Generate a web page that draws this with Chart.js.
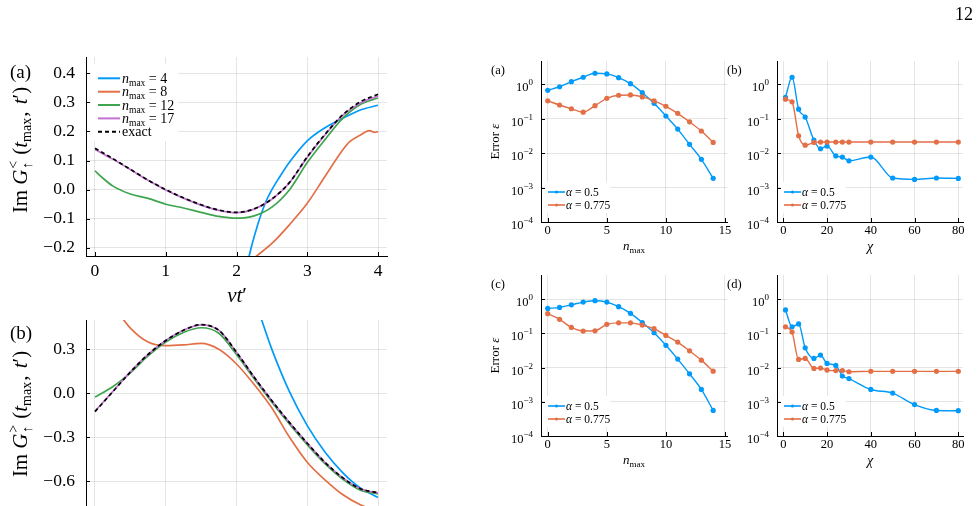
<!DOCTYPE html>
<html><head><meta charset="utf-8">
<script src="https://cdn.jsdelivr.net/npm/chart.js@4/dist/chart.umd.min.js"></script>
<style>
html,body{margin:0;padding:0;background:#fff;overflow:hidden;width:980px;height:506px;}
canvas{position:absolute;left:0;top:0;}
</style></head><body>
<canvas id="cla" width="980" height="506" style="width:980px;height:506px"></canvas>
<canvas id="clb" width="980" height="600" style="width:980px;height:600px"></canvas>
<canvas id="cra" width="980" height="506" style="width:980px;height:506px"></canvas>
<canvas id="crb" width="980" height="506" style="width:980px;height:506px"></canvas>
<canvas id="crc" width="980" height="506" style="width:980px;height:506px"></canvas>
<canvas id="crd" width="980" height="506" style="width:980px;height:506px"></canvas>
<script>
// ---------------- data ----------------
const tA = [0,0.25,0.5,0.75,1,1.25,1.5,1.75,2,2.25,2.5,2.75,3,3.25,3.5,3.75,4];
const exactA = [0.142,0.107,0.07,0.033,0.0,-0.028,-0.052,-0.07,-0.078,-0.066,-0.032,0.025,0.113,0.19,0.257,0.302,0.328];
const n17A = [0.138,0.105,0.069,0.032,-0.001,-0.029,-0.053,-0.071,-0.079,-0.067,-0.033,0.024,0.111,0.188,0.255,0.298,0.322];
const tA12 = [0,0.1,0.25,0.5,0.75,1,1.25,1.5,1.75,2,2.25,2.5,2.75,3,3.25,3.5,3.75,4];
const n12A = [0.065,0.042,0.013,-0.015,-0.03,-0.05,-0.063,-0.078,-0.092,-0.098,-0.09,-0.06,0.0,0.093,0.172,0.245,0.293,0.315];
const tA4 = [2.1,2.18,2.3,2.4,2.5,2.6,2.75,3,3.25,3.5,3.75,4];
const n4A = [-0.33,-0.227,-0.12,-0.05,0.0,0.04,0.095,0.168,0.213,0.245,0.274,0.29];
const tA8 = [2.2,2.29,2.5,2.75,3,3.25,3.5,3.6,3.75,3.88,3.95,4];
const n8A = [-0.245,-0.227,-0.185,-0.12,-0.047,0.045,0.136,0.165,0.188,0.203,0.197,0.199];

const tB = [0,0.25,0.5,0.75,1,1.25,1.5,1.75,2,2.25,2.5,2.75,3,3.25,3.5,3.75,4];
const exactB = [-0.125,0.01,0.145,0.265,0.36,0.43,0.468,0.43,0.28,0.11,-0.05,-0.2,-0.34,-0.47,-0.575,-0.65,-0.678];
const n17B = [-0.122,0.012,0.146,0.265,0.36,0.43,0.467,0.43,0.28,0.11,-0.05,-0.2,-0.34,-0.47,-0.575,-0.65,-0.68];
const n12B = [-0.025,0.045,0.14,0.255,0.35,0.415,0.447,0.41,0.265,0.1,-0.06,-0.21,-0.35,-0.48,-0.585,-0.66,-0.685];
const tB4 = [2.3,2.5,2.75,3,3.25,3.5,3.75,4];
const n4B = [0.58,0.3,0.01,-0.22,-0.4,-0.54,-0.645,-0.71];
const tB8 = [0.3,0.5,0.75,1,1.25,1.5,1.75,2,2.25,2.5,2.75,3,3.25,3.5,3.75,4];
const n8B = [0.57,0.445,0.35,0.325,0.33,0.34,0.3,0.2,0.06,-0.1,-0.3,-0.47,-0.59,-0.69,-0.76,-0.8];

const nmax = [0,1,2,3,4,5,6,7,8,9,10,11,12,13,14];
const errA05 = [0.67,0.85,1.19,1.6,2.09,2.0,1.56,1.04,0.57,0.28,0.12,0.05,0.018,0.0066,0.00186];
const errA0775 = [0.33,0.25,0.195,0.155,0.24,0.39,0.48,0.49,0.43,0.33,0.23,0.143,0.081,0.044,0.0205];
const errC05 = [0.54,0.58,0.69,0.83,0.91,0.83,0.61,0.39,0.21,0.105,0.045,0.0178,0.0066,0.0023,0.00056];
const errC0775 = [0.38,0.26,0.15,0.118,0.12,0.185,0.205,0.205,0.176,0.138,0.088,0.056,0.031,0.0166,0.0079];

const chi = [1,4,7,10,14,17,20,24,27,30,40,50,60,70,80];
const errB05 = [0.42,1.6,0.19,0.112,0.024,0.0134,0.016,0.0083,0.0077,0.006,0.0077,0.0019,0.00173,0.0019,0.00185];
const errB0775 = [0.37,0.31,0.032,0.017,0.0205,0.021,0.021,0.021,0.021,0.021,0.021,0.021,0.021,0.021,0.021];
const errD05 = [0.49,0.157,0.19,0.038,0.0186,0.0233,0.0133,0.0116,0.0057,0.0048,0.0023,0.0018,0.00083,0.00056,0.00055];
const errD0775 = [0.157,0.11,0.0174,0.0186,0.0095,0.0097,0.0085,0.0082,0.0082,0.0076,0.0078,0.0078,0.0078,0.0078,0.0078];

const xTicksLeft = [0,1,2,3,4];
const yTicksLeftA = [-0.2,-0.1,0.0,0.1,0.2,0.3,0.4];
const yTicksLeftB = [-0.6,-0.3,0.0,0.3];
const xTicksN = [0,5,10,15];
const xTicksChi = [0,20,40,60,80];
const yTicksLog = [1e-4,1e-3,1e-2,1e-1,1];
const legendLeft = ['4','8','12','17'];
const legendRight = ['0.5','0.775'];

// ---------------- style ----------------
const FONT = '"Liberation Serif", "Times New Roman", serif';
const BLUE = '#009AFA', ORANGE = '#E36F47', GREEN = '#3EA44E', PURPLE = '#C371D2';
const GRID = 'rgba(0,0,0,0.1)';

function pts(xs, ys){ return xs.map((x,i)=>({x:x, y:ys[i]})); }
function fontOf(p){ return (p.it?'italic ':'') + p.s + 'px ' + FONT; }
function richWidth(ctx, parts){
  let w = 0;
  for (const p of parts){
    ctx.font = fontOf(p);
    if (p.stack) w += Math.max(ctx.measureText(p.sup).width, ctx.measureText(p.sub).width) + (p.gap||0);
    else w += ctx.measureText(p.t).width + (p.gap||0);
  }
  return w;
}
function drawRich(ctx, parts, x, y, align){
  const w = richWidth(ctx, parts);
  let cx = align === 'center' ? x - w/2 : align === 'right' ? x - w : x;
  ctx.textAlign = 'left'; ctx.textBaseline = 'alphabetic'; ctx.fillStyle = '#000';
  for (const p of parts){
    ctx.font = fontOf(p);
    if (p.stack){
      ctx.fillText(p.sup, cx, y + p.up);
      ctx.fillText(p.sub, cx, y + p.dn);
      cx += Math.max(ctx.measureText(p.sup).width, ctx.measureText(p.sub).width) + (p.gap||0);
    } else {
      ctx.fillText(p.t, cx, y + (p.dy||0));
      cx += ctx.measureText(p.t).width + (p.gap||0);
    }
  }
}
function drawRotated(ctx, parts, cx, cy, off){
  ctx.save(); ctx.translate(cx, cy); ctx.rotate(-Math.PI/2);
  drawRich(ctx, parts, 0, off, 'center');
  ctx.restore();
}
function inwardTicks(chart){
  const {ctx, chartArea:a, scales:{x, y}} = chart;
  ctx.save(); ctx.strokeStyle = '#000'; ctx.lineWidth = 1; ctx.beginPath();
  x.ticks.forEach(t => { const px = Math.round(x.getPixelForValue(t.value)) + 0.5;
    if (px >= a.left && px <= a.right){ ctx.moveTo(px, a.bottom); ctx.lineTo(px, a.bottom - 4); } });
  y.ticks.forEach(t => { const py = Math.round(y.getPixelForValue(t.value)) + 0.5;
    if (py >= a.top - 1 && py <= a.bottom + 1){ ctx.moveTo(a.left, py); ctx.lineTo(a.left + 4, py); } });
  ctx.stroke(); ctx.restore();
}
function logLabels(chart){
  const {ctx, chartArea:a, scales:{y}} = chart;
  yTicksLog.forEach(v => {
    const py = y.getPixelForValue(v);
    const e = Math.round(Math.log10(v));
    const ex = e < 0 ? '\u2212' + (-e) : String(e);
    drawRich(ctx, [{t:'10', s:12.5}, {t:ex, s:9, dy:-6}], a.left - 8, py + 7, 'right');
  });
}
function fmt1(v){ return (v < -1e-9 ? '\u2212' : '') + Math.abs(v).toFixed(1); }

function buildChart(id, H, area, xs, ys, datasets, deco){
  const YW = 70, XH = 40;
  xs.afterFit = s => { s.height = XH; s.paddingLeft = 0; s.paddingRight = 0; };
  ys.afterFit = s => { s.width = YW; s.paddingTop = 0; s.paddingBottom = 0; };
  return new Chart(document.getElementById(id), {
    type: 'line',
    data: { datasets: datasets },
    options: {
      responsive: false, animation: false, devicePixelRatio: 1,
      layout: { padding: { left: area.l - YW, top: area.t, right: 980 - area.r, bottom: H - area.b - XH } },
      plugins: { legend: {display:false}, tooltip: {enabled:false} },
      elements: { line: { cubicInterpolationMode: 'monotone' } },
      scales: { x: xs, y: ys }
    },
    plugins: [{ id: 'deco', afterDraw: chart => { inwardTicks(chart); deco(chart); } }]
  });
}
function curve(xs, ys, color, dash){
  return { data: pts(xs, ys), borderColor: color, borderWidth: 1.7, pointRadius: 0,
    borderDash: dash || [], fill: false };
}
function series(xs, ys, color){
  return { data: pts(xs, ys), borderColor: color, backgroundColor: color, borderWidth: 1.4,
    pointRadius: 2.6, pointBorderWidth: 0, pointBackgroundColor: color, fill: false, tension: 0 };
}
function linAxis(min, max, ticks, fsize, pad, fmt, showLabels){
  return { type: 'linear', min: min, max: max,
    afterBuildTicks: s => { s.ticks = ticks.map(v => ({value: v})); },
    grid: { color: GRID, lineWidth: 1, drawTicks: false },
    border: { display: true, color: '#000', width: 1 },
    ticks: { display: showLabels !== false, color: '#000', font: {family: FONT, size: fsize}, padding: pad,
      autoSkip: false, maxRotation: 0, callback: fmt } };
}
function logAxis(min, max){
  return { type: 'logarithmic', min: min, max: max,
    afterBuildTicks: s => { s.ticks = yTicksLog.map(v => ({value: v})); },
    grid: { color: GRID, lineWidth: 1, drawTicks: false },
    border: { display: true, color: '#000', width: 1 },
    ticks: { display: false } };
}
function gTitle(sym){
  return [{t:'Im', s:21, gap:5}, {t:'G', s:21, it:true, gap:1}, {stack:true, sup:sym, sub:'\u2191', s:14, up:-9, dn:5, gap:6},
    {t:'(', s:21}, {t:'t', s:21, it:true}, {t:'max', s:14, dy:4, gap:1}, {t:', ', s:21, gap:2}, {t:'t', s:21, it:true}, {t:'\u2032', s:21}, {t:')', s:21}];
}

// ---------- left (a) ----------
buildChart('cla', 506, {l:86, t:57, r:387, b:256},
  linAxis(-0.127, 4.127, xTicksLeft, 17.5, 5, v => String(v)),
  linAxis(-0.228, 0.456, yTicksLeftA, 17.5, 11, fmt1),
  [ curve(tA, exactA, '#000', [4,3]), curve(tA, n17A, PURPLE), curve(tA12, n12A, GREEN),
    curve(tA8, n8A, ORANGE), curve(tA4, n4A, BLUE) ],
  chart => {
    const ctx = chart.ctx;
    ctx.save(); ctx.fillStyle = '#fff'; ctx.fillRect(91, 64, 87, 77);
    const cols = [BLUE, ORANGE, GREEN, PURPLE];
    const ys = [78.3, 91.7, 105, 118.4, 131.7];
    legendLeft.forEach((lab, i) => {
      ctx.strokeStyle = cols[i]; ctx.lineWidth = 2; ctx.setLineDash([]);
      ctx.beginPath(); ctx.moveTo(98, ys[i]); ctx.lineTo(120, ys[i]); ctx.stroke();
      drawRich(ctx, [{t:'n', s:14, it:true}, {t:'max', s:9.5, dy:3}, {t:' = ' + lab, s:14}], 122, ys[i] + 4.5, 'left');
    });
    ctx.strokeStyle = '#000'; ctx.lineWidth = 2; ctx.setLineDash([4,3]);
    ctx.beginPath(); ctx.moveTo(98, ys[4]); ctx.lineTo(120, ys[4]); ctx.stroke(); ctx.setLineDash([]);
    drawRich(ctx, [{t:'exact', s:14}], 122, ys[4] + 4.5, 'left');
    ctx.restore();
    drawRotated(ctx, gTitle('<'), 20, 150, 7);
    drawRich(ctx, [{t:'vt', s:21, it:true}, {t:'\u2032', s:21}], 237, 302, 'center');
    drawRich(ctx, [{t:'(a)', s:19}], 10, 78, 'left');
    drawRich(ctx, [{t:'(b)', s:19}], 10, 339, 'left');
    drawRich(ctx, [{t:'12', s:18}], 973, 20, 'right');
  });

// ---------- left (b) ----------
buildChart('clb', 600, {l:86, t:320, r:387, b:520},
  linAxis(-0.127, 4.127, xTicksLeft, 17.5, 5, v => String(v), false),
  linAxis(-(520-393.3)/146.7, 0.5, yTicksLeftB, 17.5, 11, fmt1),
  [ curve(tB, exactB, '#000', [4,3]), curve(tB, n17B, PURPLE), curve(tB, n12B, GREEN),
    curve(tB8, n8B, ORANGE), curve(tB4, n4B, BLUE) ],
  chart => {
    drawRotated(chart.ctx, gTitle('>'), 20, 414, 7);
  });

// ---------- right panels ----------
function rightLegend(ctx, x0, y0, w, rows){
  ctx.save(); ctx.fillStyle = '#fff'; ctx.fillRect(x0, y0, w, 31);
  const cols = [BLUE, ORANGE];
  legendRight.forEach((lab, i) => {
    const y = rows[i];
    ctx.strokeStyle = cols[i]; ctx.lineWidth = 1.6;
    ctx.beginPath(); ctx.moveTo(x0 + 3, y); ctx.lineTo(x0 + 20, y); ctx.stroke();
    ctx.fillStyle = cols[i]; ctx.beginPath(); ctx.arc(x0 + 11.5, y, 1.6, 0, 2*Math.PI); ctx.fill();
    drawRich(ctx, [{t:'\u03b1', s:11.5, it:true}, {t:' = ' + lab, s:11.5}], x0 + 21, y + 4, 'left');
  });
  ctx.restore();
}
function rightDeco(label, xlab, errTitle){
  return chart => {
    const ctx = chart.ctx, a = chart.chartArea;
    logLabels(chart);
    rightLegend(ctx, a.left + 4, a.bottom - 40, 65, [a.bottom - 30, a.bottom - 17]);
    drawRich(ctx, [{t:label, s:12.5}], a.left - 50, a.top + 13, 'left');
    const cx = (a.left + a.right) / 2;
    if (xlab === 'n') drawRich(ctx, [{t:'n', s:13, it:true}, {t:'max', s:9, dy:3}], cx, a.bottom + 28, 'center');
    else drawRich(ctx, [{t:'\u03c7', s:14, it:true}], cx, a.bottom + 29, 'center');
    if (errTitle) drawRotated(ctx, [{t:'Error ', s:13}, {t:'\u03b5', s:13, it:true}], a.left - 46, (a.top + a.bottom) / 2, 4);
  };
}
const logMaxTop = 4.75, logMaxBot = 5.15;
buildChart('cra', 506, {l:541, t:61, r:727, b:222},
  linAxis(-0.57, 15.17, xTicksN, 12.5, 1, v => String(v)), logAxis(1e-4, logMaxTop),
  [ series(nmax, errA0775, ORANGE), series(nmax, errA05, BLUE) ], rightDeco('(a)', 'n', true));
buildChart('crb', 506, {l:777, t:61, r:963, b:222},
  linAxis(-2.88, 82.15, xTicksChi, 12.5, 1, v => String(v)), logAxis(1e-4, logMaxTop),
  [ series(chi, errB0775, ORANGE), series(chi, errB05, BLUE) ], rightDeco('(b)', 'chi', false));
buildChart('crc', 506, {l:541, t:275, r:727, b:436},
  linAxis(-0.57, 15.17, xTicksN, 12.5, 1, v => String(v)), logAxis(1e-4, logMaxBot),
  [ series(nmax, errC0775, ORANGE), series(nmax, errC05, BLUE) ], rightDeco('(c)', 'n', true));
buildChart('crd', 506, {l:777, t:275, r:963, b:436},
  linAxis(-2.88, 82.15, xTicksChi, 12.5, 1, v => String(v)), logAxis(1e-4, logMaxBot),
  [ series(chi, errD0775, ORANGE), series(chi, errD05, BLUE) ], rightDeco('(d)', 'chi', false));
</script>
</body></html>
